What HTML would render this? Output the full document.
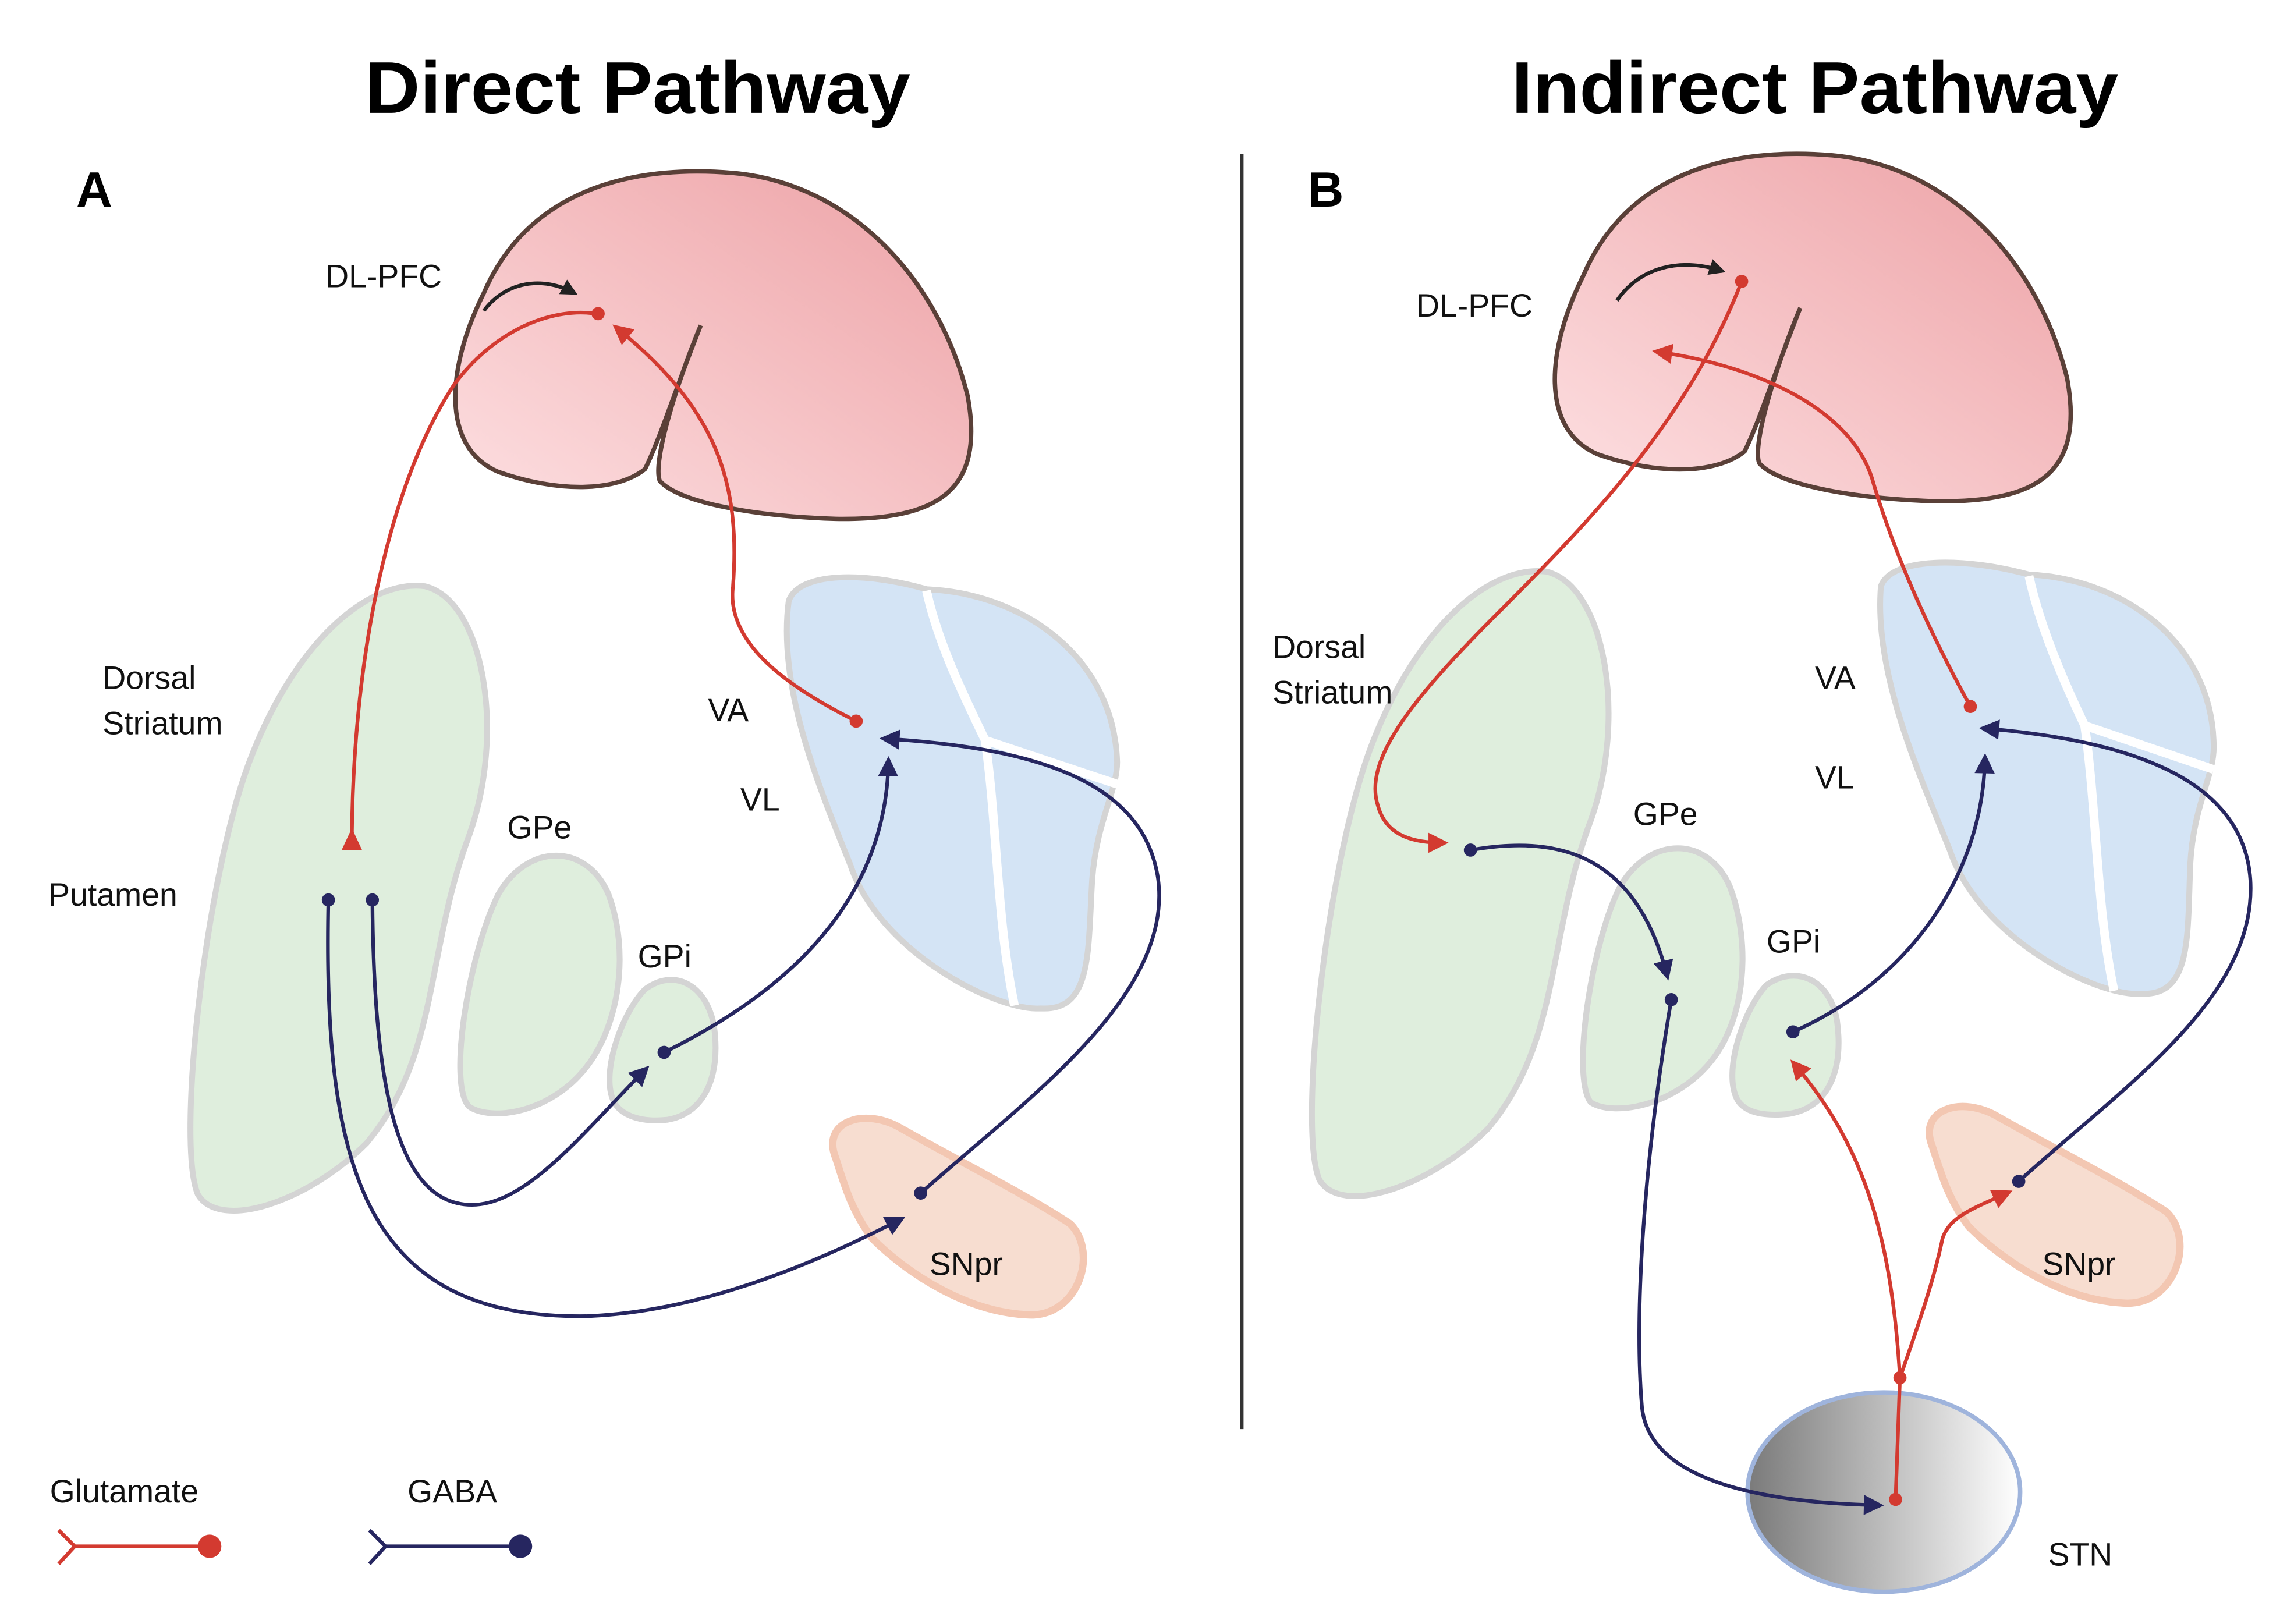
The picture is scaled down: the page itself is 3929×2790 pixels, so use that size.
<!DOCTYPE html>
<html><head><meta charset="utf-8"><style>html,body{margin:0;padding:0;background:#fff}svg{display:block}</style></head>
<body>
<svg width="3929" height="2790" viewBox="0 0 1560 1108" preserveAspectRatio="none" xmlns="http://www.w3.org/2000/svg" font-family="Liberation Sans, sans-serif">
<defs>
<linearGradient id="pk" x1="1" y1="0" x2="0" y2="1"><stop offset="0" stop-color="#eda1a5"/><stop offset="1" stop-color="#fde0e2"/></linearGradient>
<linearGradient id="stn" x1="0" y1="0" x2="1" y2="0"><stop offset="0" stop-color="#7a7a7a"/><stop offset="1" stop-color="#ffffff"/></linearGradient>
<marker id="ar" viewBox="0 0 10 10" refX="7" refY="5" markerWidth="6" markerHeight="5.5" orient="auto" markerUnits="strokeWidth"><path d="M0,0 L10,5 L0,10 Z" fill="#d33a30"/></marker>
<marker id="an" viewBox="0 0 10 10" refX="7" refY="5" markerWidth="6" markerHeight="5.5" orient="auto" markerUnits="strokeWidth"><path d="M0,0 L10,5 L0,10 Z" fill="#262660"/></marker>
<marker id="ak" viewBox="0 0 10 10" refX="8" refY="5" markerWidth="5" markerHeight="4.5" orient="auto" markerUnits="strokeWidth"><path d="M0,0 L10,5 L0,10 Z" fill="#222"/></marker>
</defs>
<rect width="1560" height="1108" fill="#fff"/>
<text x="249" y="77" font-size="50" font-weight="bold" textLength="372" lengthAdjust="spacingAndGlyphs">Direct Pathway</text>
<text x="1031" y="77" font-size="50" font-weight="bold" textLength="414" lengthAdjust="spacingAndGlyphs">Indirect Pathway</text>
<text x="52" y="141" font-size="34" font-weight="bold">A</text>
<text x="892" y="141" font-size="34" font-weight="bold">B</text>
<line x1="847" y1="105" x2="847" y2="975" stroke="#333" stroke-width="2.5"/>

<!-- LEFT -->
<path d="M330,200 C360,130 430,112 500,118 C580,125 640,190 660,270 C672,335 640,355 570,354 C510,352 462,342 450,328 C445,315 462,260 478,222 C462,262 450,300 440,320 C420,336 380,336 340,322 C300,305 305,250 330,200 Z" fill="url(#pk)" stroke="#5a4038" stroke-width="3"/>
<path d="M135,815 C120,780 140,600 170,520 C200,440 250,395 290,400 C330,410 345,500 320,570 C290,650 300,720 250,780 C210,820 150,840 135,815 Z" fill="#dfeedd" stroke="#d4d4d4" stroke-width="4"/>
<path d="M320,755 C305,740 320,650 340,610 C360,575 400,575 415,610 C430,650 422,700 400,728 C375,760 335,765 320,755 Z" fill="#dfeedd" stroke="#d4d4d4" stroke-width="4"/>
<path d="M418,750 C410,730 425,690 440,675 C460,660 482,672 487,700 C492,735 480,760 455,764 C435,766 422,760 418,750 Z" fill="#dfeedd" stroke="#d4d4d4" stroke-width="4"/>
<path d="M538,410 C545,390 590,390 632,402 C700,405 760,450 762,520 C762,540 748,560 745,600 C742,650 745,690 710,688 C680,690 600,650 580,590 C560,540 530,470 538,410 Z" fill="#d4e4f5" stroke="#d4d4d4" stroke-width="4"/>
<path d="M632,403 C640,440 660,480 672,505 C680,560 680,630 692,686 M672,505 L762,535" stroke="#fff" stroke-width="6" fill="none"/>
<path d="M570,790 C560,765 590,755 615,770 C650,790 700,815 730,835 C750,855 735,900 700,897 C660,895 620,870 595,845 C580,825 575,805 570,790 Z" fill="#f7ddd0" stroke="#f3c7b2" stroke-width="5"/>

<g fill="none" stroke-width="2.5">
<path d="M240,578 C240,450 265,330 310,262 C340,222 380,210 406,214" stroke="#d33a30"/>
<path d="M584,492 C540,470 495,440 500,400 C505,330 490,280 421,224" stroke="#d33a30" marker-end="url(#ar)"/>
<path d="M330,212 C345,192 370,188 392,200" stroke="#222" marker-end="url(#ak)"/>
<path d="M224,614 C220,800 250,900 400,898 C480,895 560,860 614,832" stroke="#262660" marker-end="url(#an)"/>
<path d="M254,614 C255,740 270,822 322,822 C360,822 400,770 440,730" stroke="#262660" marker-end="url(#an)"/>
<path d="M453,718 C530,680 604,620 606,520" stroke="#262660" marker-end="url(#an)"/>
<path d="M628,814 C700,750 800,680 790,600 C780,530 700,510 604,504" stroke="#262660" marker-end="url(#an)"/>
</g>
<polygon points="240,565 233,580 247,580" fill="#d33a30"/>
<g fill="#d33a30"><circle cx="408" cy="214" r="4.5"/><circle cx="584" cy="492" r="4.5"/></g>
<g fill="#262660"><circle cx="224" cy="614" r="4.5"/><circle cx="254" cy="614" r="4.5"/><circle cx="453" cy="718" r="4.5"/><circle cx="628" cy="814" r="4.5"/></g>

<!-- RIGHT -->
<path d="M1080,188 C1110,118 1180,100 1250,106 C1330,113 1390,178 1410,258 C1422,323 1390,343 1320,342 C1260,340 1212,330 1200,316 C1195,303 1212,248 1228,210 C1212,250 1200,288 1190,308 C1170,324 1130,324 1090,310 C1050,293 1055,238 1080,188 Z" fill="url(#pk)" stroke="#5a4038" stroke-width="3"/>
<path d="M900,805 C885,770 905,590 935,510 C965,430 1015,385 1055,390 C1095,400 1110,490 1085,560 C1055,640 1065,710 1015,770 C975,810 915,830 900,805 Z" fill="#dfeedd" stroke="#d4d4d4" stroke-width="4"/>
<path d="M1085,752 C1072,735 1085,645 1105,605 C1125,570 1165,570 1180,605 C1195,645 1190,695 1168,723 C1143,755 1100,762 1085,752 Z" fill="#dfeedd" stroke="#d4d4d4" stroke-width="4"/>
<path d="M1184,748 C1176,728 1190,688 1205,672 C1225,658 1248,668 1253,696 C1258,732 1246,756 1220,760 C1200,762 1188,758 1184,748 Z" fill="#dfeedd" stroke="#d4d4d4" stroke-width="4"/>
<path d="M1283,400 C1290,380 1340,380 1384,392 C1450,395 1510,440 1510,510 C1510,530 1496,550 1494,590 C1492,640 1495,680 1460,678 C1430,680 1350,640 1330,580 C1310,530 1278,460 1283,400 Z" fill="#d4e4f5" stroke="#d4d4d4" stroke-width="4"/>
<path d="M1384,393 C1392,430 1410,470 1422,495 C1430,550 1430,620 1442,676 M1422,495 L1510,525" stroke="#fff" stroke-width="6" fill="none"/>
<path d="M1318,782 C1308,757 1338,747 1363,762 C1398,782 1448,807 1478,827 C1498,847 1483,892 1448,889 C1408,887 1368,862 1343,837 C1328,817 1323,797 1318,782 Z" fill="#f7ddd0" stroke="#f3c7b2" stroke-width="5"/>
<ellipse cx="1285" cy="1018" rx="93" ry="68" fill="url(#stn)" stroke="#9fb4dc" stroke-width="3"/>

<g fill="none" stroke-width="2.5">
<path d="M1188,192 C1150,290 1080,360 1020,420 C960,480 930,520 940,550 C945,568 960,575 984,575" stroke="#d33a30" marker-end="url(#ar)"/>
<path d="M1344,482 C1310,420 1290,370 1278,330 C1265,280 1200,250 1131,240" stroke="#d33a30" marker-end="url(#ar)"/>
<path d="M1103,205 C1118,183 1145,175 1175,185" stroke="#222" marker-end="url(#ak)"/>
<path d="M1003,580 C1060,570 1115,580 1137,665" stroke="#262660" marker-end="url(#an)"/>
<path d="M1140,682 C1120,800 1115,900 1120,960 C1125,1010 1200,1025 1281,1027" stroke="#262660" marker-end="url(#an)"/>
<path d="M1223,704 C1300,670 1352,600 1354,518" stroke="#262660" marker-end="url(#an)"/>
<path d="M1377,806 C1450,740 1540,680 1535,600 C1530,530 1450,505 1354,497" stroke="#262660" marker-end="url(#an)"/>
<path d="M1293,1023 L1296,940" stroke="#d33a30"/>
<path d="M1296,940 C1290,840 1270,780 1224,726" stroke="#d33a30" marker-end="url(#ar)"/>
<path d="M1296,940 C1310,900 1320,870 1325,845 C1330,830 1345,825 1369,814" stroke="#d33a30" marker-end="url(#ar)"/>
</g>
<g fill="#d33a30"><circle cx="1188" cy="192" r="4.5"/><circle cx="1344" cy="482" r="4.5"/><circle cx="1296" cy="940" r="4.5"/><circle cx="1293" cy="1023" r="4.5"/></g>
<g fill="#262660"><circle cx="1003" cy="580" r="4.5"/><circle cx="1140" cy="682" r="4.5"/><circle cx="1223" cy="704" r="4.5"/><circle cx="1377" cy="806" r="4.5"/></g>

<g font-size="22" fill="#111">
<text x="222" y="196">DL-PFC</text>
<text x="70" y="470">Dorsal</text><text x="70" y="501">Striatum</text>
<text x="33" y="618">Putamen</text>
<text x="346" y="572">GPe</text>
<text x="435" y="660">GPi</text>
<text x="483" y="492">VA</text>
<text x="505" y="553">VL</text>
<text x="634" y="870">SNpr</text>
<text x="966" y="216">DL-PFC</text>
<text x="868" y="449">Dorsal</text><text x="868" y="480">Striatum</text>
<text x="1114" y="563">GPe</text>
<text x="1205" y="650">GPi</text>
<text x="1238" y="470">VA</text>
<text x="1238" y="538">VL</text>
<text x="1393" y="870">SNpr</text>
<text x="1397" y="1068">STN</text>
<text x="34" y="1025">Glutamate</text>
<text x="278" y="1025">GABA</text>
</g>
<g fill="none" stroke-width="2.5">
<path d="M40,1044 L51,1055 L40,1067 M51,1055 L143,1055" stroke="#d33a30"/>
<path d="M252,1044 L263,1055 L252,1067 M263,1055 L355,1055" stroke="#262660"/>
</g>
<circle cx="143" cy="1055" r="8" fill="#d33a30"/>
<circle cx="355" cy="1055" r="8" fill="#262660"/>
</svg>
</body></html>
